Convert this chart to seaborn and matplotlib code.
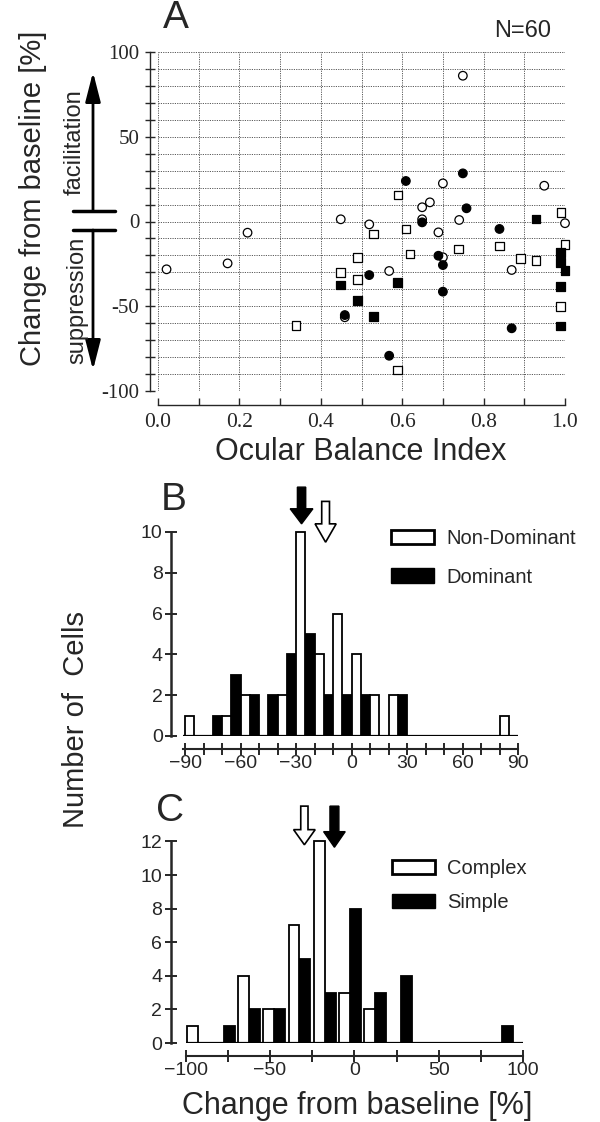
import numpy as np
import pandas as pd
import matplotlib
matplotlib.use("Agg")
import matplotlib.pyplot as plt
from matplotlib.lines import Line2D
from matplotlib.patches import Patch
from matplotlib.ticker import MultipleLocator, FixedLocator
import seaborn as sns

# ---------------- Panel A data (Ocular balance index vs change) ----------------
oc_obi = [0.749, 0.70, 0.949, 0.668, 0.649, 0.649, 0.74, 1.0, 0.689, 0.70, 0.568,
          0.869, 0.459, 0.449, 0.519, 0.22, 0.171, 0.021]
oc_chg = [86, 22.5, 21.1, 11.3, 8.4, 1.3, 0.9, -1, -6.4, -21.1, -29.2,
          -28.6, -56.5, 1.3, -1.7, -6.6, -24.7, -28.2]
os_obi = [0.590, 0.99, 0.609, 0.529, 1.0, 0.839, 0.738, 0.619, 0.89, 0.929, 0.989,
          0.589, 0.49, 0.449, 0.49, 0.339]
os_chg = [15.6, 5.2, -4.4, -7.4, -13.5, -14.5, -16.2, -19.2, -21.7, -22.9, -50.3,
          -87.6, -21.3, -30.2, -34.1, -61.5]
fc_obi = [0.749, 0.609, 0.758, 0.649, 0.839, 0.689, 0.70, 0.519, 0.70, 0.869, 0.568, 0.459]
fc_chg = [28.4, 23.9, 7.8, -0.5, -4.4, -20.2, -25.7, -31.6, -41.4, -63, -79.2, -55.2]
fs_obi = [0.929, 0.989, 0.989, 1.0, 0.589, 0.989, 0.529, 0.989, 0.449, 0.49]
fs_chg = [1.5, -18.2, -24.3, -29, -36.1, -38.5, -56.2, -61.7, -37.5, -46.7]

# ---------------- Panel B data ----------------
b_centers = [-85, -75, -65, -55, -45, -35, -25, -15, -5, 5, 15, 25, 35, 45, 55, 65, 75, 85]
b_nondom = [1, 0, 1, 2, 0, 2, 10, 4, 6, 4, 2, 2, 0, 0, 0, 0, 0, 1]
b_dom = [0, 1, 3, 2, 2, 4, 5, 2, 2, 2, 0, 2, 0, 0, 0, 0, 0, 0]
b_mean_nondom = -14
b_mean_dom = -27

# ---------------- Panel C data ----------------
c_centers = [-92.5, -77.5, -62.5, -47.5, -32.5, -17.5, -2.5, 12.5, 27.5, 42.5, 57.5, 72.5, 87.5]
c_complex = [1, 0, 4, 2, 7, 12, 3, 2, 0, 0, 0, 0, 0]
c_simple = [0, 1, 2, 2, 5, 3, 8, 3, 4, 0, 0, 0, 1]
c_mean_complex = -29.6
c_mean_simple = -11.8

sns.set_style("ticks")
plt.rcParams["font.family"] = ["Liberation Sans", "DejaVu Sans"]
plt.rcParams["axes.unicode_minus"] = True

W, H = 600, 1122
fig = plt.figure(figsize=(W / 100, H / 100), dpi=100)


def frac(x, y):
    return x / W, 1 - y / H


# ================= Panel A =================
axA = fig.add_axes([158 / W, 1 - 391 / H, 407 / W, 339 / H])
dfA = pd.DataFrame({
    "obi": oc_obi + os_obi + fc_obi + fs_obi,
    "change": oc_chg + os_chg + fc_chg + fs_chg,
    "fill": ["open"] * (len(oc_obi) + len(os_obi)) + ["filled"] * (len(fc_obi) + len(fs_obi)),
    "shape": ["circle"] * len(oc_obi) + ["square"] * len(os_obi)
             + ["circle"] * len(fc_obi) + ["square"] * len(fs_obi),
})
sns.scatterplot(data=dfA, x="obi", y="change", hue="fill", style="shape",
                palette={"open": "white", "filled": "black"},
                markers={"circle": "o", "square": "s"},
                s=38, edgecolor="black", linewidth=0.9, legend=False,
                clip_on=False, zorder=3, ax=axA)
axA.set_xlim(0, 1)
axA.set_ylim(-100, 100)
axA.set_xlabel("")
axA.set_ylabel("")
axA.xaxis.set_major_locator(FixedLocator([0, 0.2, 0.4, 0.6, 0.8, 1.0]))
axA.xaxis.set_minor_locator(MultipleLocator(0.1))
axA.yaxis.set_major_locator(FixedLocator([-100, -50, 0, 50, 100]))
axA.yaxis.set_minor_locator(MultipleLocator(10))
axA.set_xticklabels(["0.0", "0.2", "0.4", "0.6", "0.8", "1.0"])
axA.set_yticklabels(["-100", "-50", "0", "50", "100"])
axA.grid(True, which="both", linestyle=(0, (1.2, 1.2)), color="0.35", linewidth=0.7)
for s in ["top", "right"]:
    axA.spines[s].set_visible(False)
axA.spines["left"].set_position(("outward", 6))
axA.spines["bottom"].set_position(("outward", 10))
for s in ["left", "bottom"]:
    axA.spines[s].set_linewidth(1.0)
axA.tick_params(axis="y", which="both", direction="inout", length=7, width=1.0, pad=4)
axA.tick_params(axis="x", which="both", direction="in", length=5, width=1.0, pad=6)
plt.setp(axA.get_xticklabels(), family="Liberation Serif", size=15.5)
plt.setp(axA.get_yticklabels(), family="Liberation Serif", size=15)

fig.text(*frac(176, 18), "A", fontsize=28, ha="center", va="center")
fig.text(*frac(523, 31), "N=60", fontsize=17, ha="center", va="center")
fig.text(*frac(361, 452), "Ocular Balance Index", fontsize=22, ha="center", va="center")
fig.text(*frac(33, 198), "Change from baseline [%]", fontsize=21, rotation=90,
         ha="center", va="center")
fig.text(*frac(75, 142), "facilitation", fontsize=17, rotation=90, ha="center", va="center")
fig.text(*frac(77, 300), "suppression", fontsize=17, rotation=90, ha="center", va="center")

axA.annotate("", xy=(93, H - 72), xytext=(93, H - 211), xycoords="figure pixels",
             textcoords="figure pixels",
             arrowprops=dict(arrowstyle="-|>,head_length=0.9,head_width=0.23",
                             lw=2, color="black", shrinkA=0, shrinkB=0, mutation_scale=20))
axA.annotate("", xy=(93, H - 370), xytext=(93, H - 230), xycoords="figure pixels",
             textcoords="figure pixels",
             arrowprops=dict(arrowstyle="-|>,head_length=0.9,head_width=0.23",
                             lw=2, color="black", shrinkA=0, shrinkB=0, mutation_scale=20))
for yy in (211, 230):
    fig.add_artist(Line2D([73 / W, 115 / W], [1 - yy / H, 1 - yy / H],
                          transform=fig.transFigure, color="black", lw=2.5))


# ================= Histogram helper =================
def hist_panel(ax, centers, first, second, names, width, shrink, xlim, ylim, ybound,
               xbound, xmajor, xminor, ymajor):
    n = len(centers)
    df = pd.DataFrame({
        "change": list(centers) * 2,
        "count": list(first) + list(second),
        "group": [names[0]] * n + [names[1]] * n,
    })
    edges = [c - width / 2 for c in centers] + [centers[-1] + width / 2]
    sns.histplot(data=df, x="change", weights="count", hue="group", hue_order=names,
                 palette={names[0]: "white", names[1]: "black"}, bins=edges,
                 multiple="dodge", shrink=shrink, alpha=1, edgecolor="black",
                 linewidth=1.3, legend=False, ax=ax)
    ax.set_xlim(*xlim)
    ax.set_ylim(*ylim)
    ax.set_xlabel("")
    ax.set_ylabel("")
    ax.hlines(0, xbound[0], xbound[1], color="black", lw=1.6, zorder=4)
    for s in ["top", "right"]:
        ax.spines[s].set_visible(False)
    ax.spines["left"].set_bounds(*ybound)
    ax.spines["bottom"].set_bounds(*xbound)
    ax.spines["bottom"].set_position(("outward", 9))
    ax.spines["left"].set_linewidth(1.8)
    ax.spines["bottom"].set_linewidth(1.5)
    ax.xaxis.set_major_locator(FixedLocator(xmajor))
    ax.xaxis.set_minor_locator(FixedLocator(xminor))
    ax.yaxis.set_major_locator(FixedLocator(ymajor))
    ax.tick_params(axis="both", which="both", direction="inout", length=8, width=1.4,
                   labelsize=14)
    ax.tick_params(axis="x", pad=1)
    ax.tick_params(axis="y", pad=2)


# ================= Panel B =================
axB = fig.add_axes([171 / W, 1 - 736 / H, 365.5 / W, 255 / H])
hist_panel(axB, b_centers, b_nondom, b_dom, ["Non-Dominant", "Dominant"], 10, 1.0,
           (-97.57, 100), (0, 12.5), (0, 10), (-91, 90),
           [-90, -60, -30, 0, 30, 60, 90], list(range(-90, 91, 10)), [0, 2, 4, 6, 8, 10])
axB.arrow(b_mean_dom, 12.2, 0, -1.8, width=4.5, head_width=12.3, head_length=0.74,
          length_includes_head=True, fc="black", ec="black", lw=1, clip_on=False, zorder=5)
axB.arrow(b_mean_nondom, 11.5, 0, -2.0, width=4.2, head_width=11.4, head_length=0.9,
          length_includes_head=True, fc="white", ec="black", lw=1.2, clip_on=False, zorder=5)
axB.legend(handles=[Patch(facecolor="white", edgecolor="black", linewidth=2, label="Non-Dominant"),
                    Patch(facecolor="black", edgecolor="black", label="Dominant")],
           loc="upper left", bbox_to_anchor=frac(391, 529), bbox_transform=fig.transFigure,
           frameon=False, fontsize=14.5, handlelength=2.15, handleheight=0.75,
           handletextpad=0.6, labelspacing=0.98, borderpad=0, borderaxespad=0)
fig.text(*frac(174, 500), "B", fontsize=28, ha="center", va="center")

# ================= Panel C =================
axC = fig.add_axes([170.7 / W, 1 - 1043 / H, 369.3 / W, 243.6 / H])
hist_panel(axC, c_centers, c_complex, c_simple, ["Complex", "Simple"], 15, 13 / 15,
           (-108.8, 110), (0, 14.5), (0, 12), (-100, 100),
           [-100, -50, 0, 50, 100], list(range(-100, 101, 25)), [0, 2, 4, 6, 8, 10, 12])
axC.arrow(c_mean_complex, 14.1, 0, -2.3, width=4.3, head_width=12.8, head_length=0.9,
          length_includes_head=True, fc="white", ec="black", lw=1.2, clip_on=False, zorder=5)
axC.arrow(c_mean_simple, 14.1, 0, -2.45, width=5.3, head_width=12.8, head_length=0.93,
          length_includes_head=True, fc="black", ec="black", lw=1, clip_on=False, zorder=5)
axC.legend(handles=[Patch(facecolor="white", edgecolor="black", linewidth=2, label="Complex"),
                    Patch(facecolor="black", edgecolor="black", label="Simple")],
           loc="upper left", bbox_to_anchor=frac(392, 859), bbox_transform=fig.transFigure,
           frameon=False, fontsize=14.5, handlelength=2.15, handleheight=0.75,
           handletextpad=0.6, labelspacing=0.75, borderpad=0, borderaxespad=0)
fig.text(*frac(170, 811), "C", fontsize=28, ha="center", va="center")

fig.text(*frac(357, 1106), "Change from baseline [%]", fontsize=22, ha="center", va="center")
fig.text(*frac(76, 720), "Number of  Cells", fontsize=21, rotation=90, ha="center", va="center")

fig.savefig("out.png", dpi=100)
